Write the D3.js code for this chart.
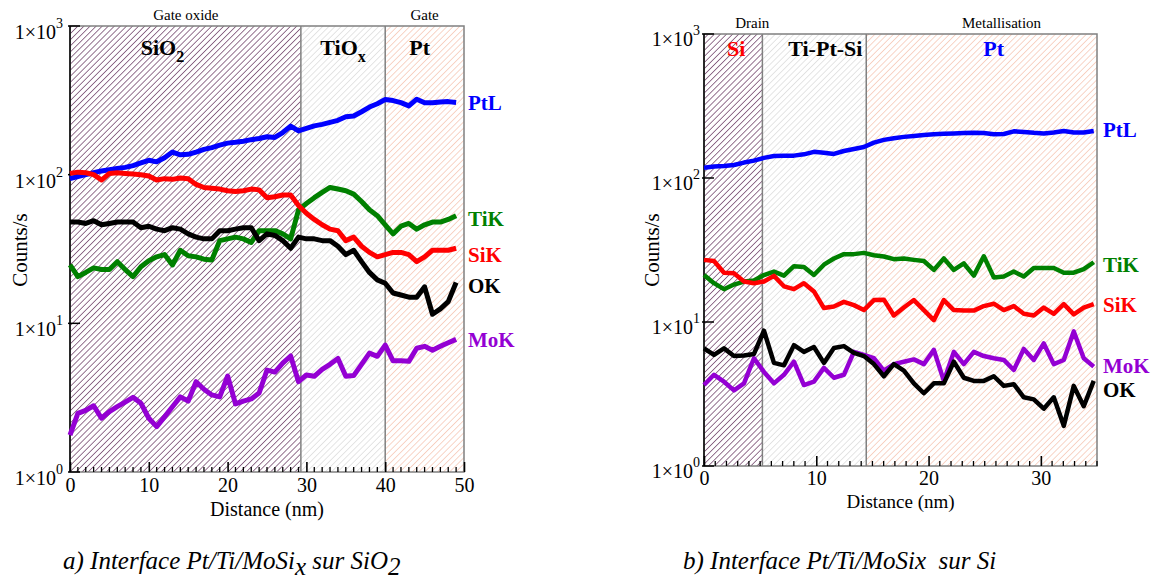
<!DOCTYPE html>
<html><head><meta charset="utf-8">
<script src="https://cdn.jsdelivr.net/npm/d3@7"></script>
<style>
body{margin:0;background:#fff}
svg{display:block}
</style>
</head><body>
<svg id="c" width="1154" height="581"></svg>
<script>
// ---------- Panel a) data (Pt/Ti/MoSix on SiO2) ----------
const distA = [0,1,2,3,4,5,6,7,8,9,10,11,12,13,14,15,16,17,18,19,20,21,22,23,24,25,26,27,28,29,30,31,32,33,34,35,36,37,38,39,40,41,42,43,44,45,46,47,48,49];
const ptlA = [94,97,100,103,106,108,110,112,115,120,125,122,130,142,136,137,142,148,152,158,163,165,168,172,175,180,178,192,212,197,205,213,218,225,232,245,248,265,285,300,320,315,305,290,322,305,305,308,310,306];
const sikA = [102,104,103,100,92,102,103,102,101,100,98,92,94,93,95,94,86,82,81,80,78,77,78,80,79,70,71,73,73,62,55,50,46,43,42,36,38,33,30,28,29,30,30,29,26,28,31,31,31,32];
const okA  = [48,48,47,49,46,47,48,48,48,44,45,43,42,44,43,40,38,37,37,42,42,43,44,44,36,40,39,36,32,38,37,37,36,36,33,29,31,26,22,19.6,18.6,16,15.5,15,15,17.6,11.5,12.5,14,18.8];
const tikA = [24.7,20.6,22,23.6,23,23,26,23,20.6,24,26.4,28,29,24.7,31,28.5,28,27,26.7,36,37,38,37,35,42,42,42,40,37,58,64,70,76,82,80,78,74,66,58,53,46,40,45,47,43,46,48,48,50,53];
const mokA = [1.77,2.48,2.6,2.79,2.3,2.55,2.75,2.95,3.18,2.9,2.3,2.02,2.35,2.75,3.2,3.0,4.05,3.6,3.3,3.2,4.42,2.87,3.0,3.1,3.4,4.85,4.7,5.4,6.03,4.05,4.49,4.4,4.9,5.3,5.8,4.4,4.45,5.3,6.3,6.0,7.14,5.6,5.6,5.55,6.8,7.0,6.6,7.0,7.4,7.8];
const xTicksA = [0,10,20,30,40,50];
const regionsA = [[0,29.3],[29.3,40],[40,50]];
const regionNamesA = ["SiO", "TiO", "Pt"];
const regionSubsA = ["2", "x", ""];
const headersA = [["Gate oxide",14.7],["Gate",45]];

// ---------- Panel b) data (Pt/Ti/MoSix on Si) ----------
const distB = [0,0.89,1.78,2.67,3.56,4.45,5.34,6.23,7.12,8.01,8.9,9.79,10.68,11.57,12.46,13.35,14.24,15.13,16.02,16.91,17.8,18.69,19.58,20.47,21.36,22.25,23.14,24.03,24.92,25.81,26.7,27.59,28.48,29.37,30.26,31.15,32.04,32.93,33.82,34.71];
const ptlB = [118,120,121,123,128,132,138,142,143,143,146,152,150,147,154,159,164,176,184,189,193,196,199,201,203,204,205,206,205,201,202,211,209,206,204,207,212,207,207,212];
const tikB = [21.2,18.6,16.9,18.2,19.1,19.4,21.2,22.4,21,24.4,24.1,21.2,25,27.6,29.6,29.6,30.2,29.1,28.5,27.3,27.6,27,26.5,23,27.6,23,25.5,21,28.6,20.4,20.7,22.4,20.7,23.7,23.7,23.7,22,22,23.3,26];
const sikB = [27,26.5,22,21.8,19.1,18.6,19.1,20.9,17.7,16.9,18.6,16.3,12.5,12.8,13.8,13.1,12.1,14.2,14.3,11.1,12.6,14.2,12.1,10.3,14.2,12.1,12,12,12.9,13.4,12.1,12.9,11.4,11.1,12.6,11.4,13.3,11.3,12.6,13.3];
const okB  = [6.56,5.9,6.56,5.8,5.85,6.0,8.7,5.2,5.0,6.9,6.2,6.7,5.2,6.6,6.8,6.1,5.8,5.1,4.2,5.1,4.6,3.75,3.2,3.75,3.75,5.3,4.1,3.9,3.9,4.2,3.6,3.7,3.0,2.9,2.5,3.0,1.9,3.6,2.6,3.9];
const mokB = [3.65,4.3,3.85,3.35,3.75,5.6,4.5,3.75,4.3,5.3,3.65,3.85,4.8,4.1,4.3,6.2,5.9,5.6,4.6,5.1,5.3,5.5,5.1,6.4,3.9,6.2,5.1,6.2,5.8,5.6,5.45,4.64,6.5,5.45,7.1,5.1,5.45,8.6,5.6,4.9];
const xTicksB = [0,10,20,30];
const regionsB = [[0,5.2],[5.2,14.45],[14.45,35]];
const regionNamesB = ["Si", "Ti-Pt-Si", "Pt"];
const regionSubsB = ["", "", ""];
const headersB = [["Drain",4.3],["Metallisation",26.5]];

const decades = [1,10,100,1000];
const colors = {PtL:"#0000ff", TiK:"#008000", SiK:"#ff0000", OK:"#000000", MoK:"#9400d3"};
const FONT = '"Liberation Serif","Tinos","Times New Roman","DejaVu Serif",serif';

const svg = d3.select("#c");
svg.append("rect").attr("width",1154).attr("height",581).attr("fill","#fff");

// hatch patterns
const defs = svg.append("defs");
function hatch(id, color, w, sp){
  const p = defs.append("pattern").attr("id",id).attr("patternUnits","userSpaceOnUse")
    .attr("width",sp).attr("height",sp).attr("patternTransform","rotate(45)");
  p.append("rect").attr("width",sp).attr("height",sp).attr("fill","#fff");
  p.append("line").attr("x1",0).attr("y1",0).attr("x2",0).attr("y2",sp)
    .attr("stroke",color).attr("stroke-width",w);
}
hatch("hPurple","#6a3a62",1.4,4.3);
hatch("hGrey","#d0d0d0",1.1,4.4);
hatch("hPeach","#f3b39a",1.1,4.4);
const fills = ["url(#hPurple)","url(#hGrey)","url(#hPeach)"];

function txt(sel){ return sel.append("text").style("font-family",FONT); }

function panel(o){
  const x = d3.scaleLinear().domain([0,o.xMax]).range([o.left,o.right]);
  const y = d3.scaleLog().domain([1,1000]).range([o.bottom,o.top]);
  const g = svg.append("g");

  o.regions.forEach((r,i)=>{
    g.append("rect").attr("x",x(r[0])).attr("y",o.top)
      .attr("width",x(r[1])-x(r[0])).attr("height",o.bottom-o.top)
      .attr("fill",fills[i]);
  });
  g.append("rect").attr("x",o.left).attr("y",o.top)
    .attr("width",o.right-o.left).attr("height",o.bottom-o.top)
    .attr("fill","none").attr("stroke","#808080").attr("stroke-width",1.5);
  o.regions.slice(1).forEach(r=>{
    g.append("line").attr("x1",x(r[0])).attr("x2",x(r[0])).attr("y1",o.top).attr("y2",o.bottom)
      .attr("stroke","#808080").attr("stroke-width",1.5);
  });
  g.append("line").attr("x1",o.left).attr("x2",o.left).attr("y1",o.top).attr("y2",o.bottom)
    .attr("stroke","#000").attr("stroke-width",1.5);

  const xa = g.append("g").attr("transform",`translate(0,${o.bottom})`)
    .call(d3.axisBottom(x).tickValues(o.xTicks).tickSize(-10).tickPadding(o.xPad).tickFormat(d3.format("d")));
  xa.attr("font-family",null).attr("font-size",null);
  xa.select(".domain").remove();
  xa.selectAll(".tick line").attr("stroke","#000").attr("stroke-width",1.6);
  xa.selectAll("text").attr("fill","#000")
    .style("font-family",FONT).style("font-size",o.tickFont+"px");
  const minors = d3.range(0,o.xMax+0.001,1).filter(v=>v%10!==0);
  g.selectAll(".mt").data(minors).join("line")
    .attr("x1",d=>x(d)).attr("x2",d=>x(d)).attr("y1",o.bottom).attr("y2",o.bottom-5)
    .attr("stroke","#000").attr("stroke-width",1.3);

  decades.forEach((d,i)=>{
    g.append("line").attr("x1",o.left-2).attr("x2",o.left+10).attr("y1",y(d)).attr("y2",y(d))
      .attr("stroke","#000").attr("stroke-width",1.5);
    const t = txt(g).attr("x",o.labEnd).attr("y",y(d)+o.labDy)
      .attr("text-anchor","end").style("font-size",o.tickFont+"px");
    t.append("tspan").text("1×10");
    t.append("tspan").attr("dy",-11).style("font-size","14px").text(String(i));
  });

  txt(g).attr("x",(o.left+o.right)/2).attr("y",o.xTitleY)
    .attr("text-anchor","middle").style("font-size",o.titleFont+"px").text("Distance (nm)");
  txt(g).attr("transform",`translate(${o.yTitleX},250) rotate(-90)`)
    .attr("text-anchor","middle").style("font-size","21px").text("Counts/s");

  o.headers.forEach(h=>{
    txt(g).attr("x",x(h[1])).attr("y",o.top-6).attr("text-anchor","middle")
      .style("font-size","15px").text(h[0]);
  });
  o.regions.forEach((r,i)=>{
    const t = txt(g).attr("x",(x(r[0])+x(r[1]))/2 + o.nameShift[i]).attr("y",o.nameY)
      .attr("text-anchor","middle").style("font-size","22px").style("font-weight","bold")
      .attr("fill",o.nameColors[i]);
    t.append("tspan").text(o.regionNames[i]);
    if(o.regionSubs[i]) t.append("tspan").attr("dy",7).style("font-size","16px").text(o.regionSubs[i]);
  });

  const line = d3.line().x(d=>x(d[0])).y(d=>y(d[1]));
  o.series.forEach(s=>{
    const pts = o.dist.map((d,i)=>[d,s.vals[i]]);
    g.append("path").attr("d",line(pts)).attr("fill","none")
      .attr("stroke",colors[s.name]).attr("stroke-width",o.lw)
      .attr("stroke-linejoin","round").attr("stroke-linecap","butt");
    txt(g).attr("x",o.labX).attr("y",s.labY).style("font-size","21px")
      .style("font-weight","bold").attr("fill",colors[s.name]).text(s.name);
  });
}

panel({left:70,right:464,top:26,bottom:472,xMax:50,dist:distA,xTicks:xTicksA,
  xPad:6,tickFont:20,titleFont:20,labEnd:63,labDy:13,xTitleY:516,yTitleX:27,
  regions:regionsA,regionNames:regionNamesA,regionSubs:regionSubsA,headers:headersA,
  nameY:55,nameShift:[-23,0,-5],nameColors:["#000","#000","#000"],lw:5,labX:468,
  series:[{name:"PtL",vals:ptlA,labY:110},{name:"TiK",vals:tikA,labY:226},{name:"SiK",vals:sikA,labY:262},
          {name:"OK",vals:okA,labY:293},{name:"MoK",vals:mokA,labY:347}]});

panel({left:704,right:1097,top:34,bottom:466,xMax:35,dist:distB,xTicks:xTicksB,
  xPad:5,tickFont:20,titleFont:19,labEnd:700,labDy:12,xTitleY:508,yTitleX:659,
  regions:regionsB,regionNames:regionNamesB,regionSubs:regionSubsB,headers:headersB,
  nameY:56,nameShift:[3,11,12],nameColors:["#ff0000","#000","#0000ff"],lw:4.5,labX:1103,
  series:[{name:"PtL",vals:ptlB,labY:137},{name:"TiK",vals:tikB,labY:272},{name:"SiK",vals:sikB,labY:312},
          {name:"MoK",vals:mokB,labY:373},{name:"OK",vals:okB,labY:397}]});

const capA = txt(svg).attr("x",63).attr("y",569).style("font-size","25px").style("font-style","italic");
capA.append("tspan").text("a) Interface Pt/Ti/MoSi");
capA.append("tspan").attr("dy",6).text("x");
capA.append("tspan").attr("dy",-6).text(" sur SiO");
capA.append("tspan").attr("dy",6).text("2");
txt(svg).attr("x",683).attr("y",569).style("font-size","25px").style("font-style","italic")
  .style("white-space","pre").text("b) Interface Pt/Ti/MoSix  sur Si");
</script>
</body></html>
